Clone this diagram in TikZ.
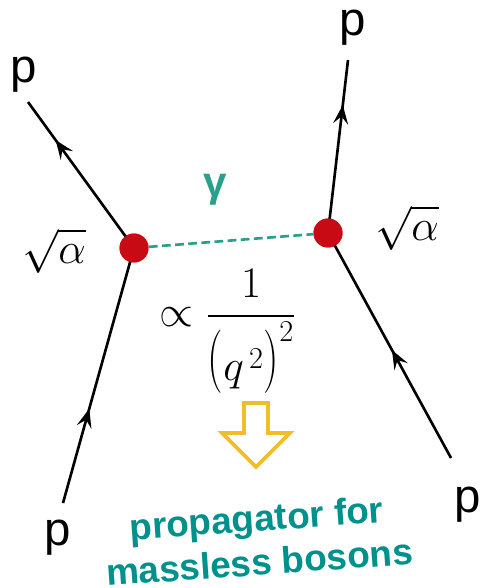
\documentclass[tikz,border=0pt]{standalone}
\usepackage{amsmath}
\usepackage{graphicx}
\usepackage{fontspec}
\newfontfamily\labelfont{Liberation Sans}
\usetikzlibrary{arrows.meta,decorations.markings}
\definecolor{vertexred}{RGB}{200,10,20}
\definecolor{photoncol}{RGB}{40,160,140}
\definecolor{tealtext}{RGB}{0,145,140}
\definecolor{arrowgold}{RGB}{240,190,40}
\newcommand{\tallL}{\mathopen{\raisebox{0.08em}{\scalebox{1}[1.45]{$($}}}}
\newcommand{\tallR}{\mathclose{\raisebox{0.08em}{\scalebox{1}[1.45]{$)$}}}}

\begin{document}
\begin{tikzpicture}[x=0.02cm, y=-0.02cm,
  leg/.style={line width=1.5pt, black},
  fermion/.style={leg, postaction={decorate},
    decoration={markings, mark=at position #1 with
      {\arrow{Stealth[length=3.8mm,width=3mm,inset=1.5mm]}}}},
  vtx/.style={circle, fill=vertexred, inner sep=0pt, minimum size=0.58cm},
  photon/.style={photoncol, line width=1.5pt, dash pattern=on 5pt off 2.5pt},
  plabel/.style={font=\labelfont\fontsize{27}{30}\selectfont},
  coupling/.style={font=\fontsize{28}{30}\selectfont},
]
\useasboundingbox (0,0) rectangle (481,588);

% ---- Vertices and external ends ----
\node[vtx] (v1) at (134,248) {};
\node[vtx] (v2) at (328,233) {};
\coordinate (tl) at (28,102);
\coordinate (tr) at (348,60);
\coordinate (bl) at (63,503);
\coordinate (br) at (451,458);

% ---- Fermion legs ----
\draw[fermion=0.74] (v1.center) -- (tl);
\draw[fermion=0.74] (v2.center) -- (tr);
\draw[fermion=0.37] (bl) -- (v1.center);
\draw[fermion=0.48] (br) -- (v2.center);

% ---- Photon exchange ----
\draw[photon] (v1) -- (v2);
\node[vtx] at (v1) {};
\node[vtx] at (v2) {};
\node[text=photoncol, font=\labelfont\bfseries\fontsize{24}{26}\selectfont] (gam) at (215,190) {γ};

% ---- Labels ----
\node[plabel] (ptl) at (24,75)  {p};
\node[plabel] (ptr) at (353,28) {p};
\node[plabel] (pbl) at (58,538) {p};
\node[plabel] (pbr) at (468,505) {p};
\node[coupling] (cpl1) at (54,251)  {$\sqrt{\alpha}$};
\node[coupling] (cpl2) at (407,228) {$\sqrt{\alpha}$};
\node[font=\fontsize{25}{27}\selectfont] (prop) at (228,331)
  {$\propto \dfrac{1}{\tallL q^{\,2}\tallR^{2}}$};

% ---- Hollow arrow and caption ----
\draw[arrowgold, fill=white, line width=2.2pt, line join=miter]
  (244,403) -- (268,403) -- (268,433) -- (290,433) -- (256,467)
  -- (222,433) -- (244,433) -- cycle;
\node[text=tealtext, rotate=4, align=center,
  font=\labelfont\bfseries\fontsize{21}{25}\selectfont] (caption) at (258,540)
  {propagator for\\massless bosons};
\end{tikzpicture}
\end{document}
